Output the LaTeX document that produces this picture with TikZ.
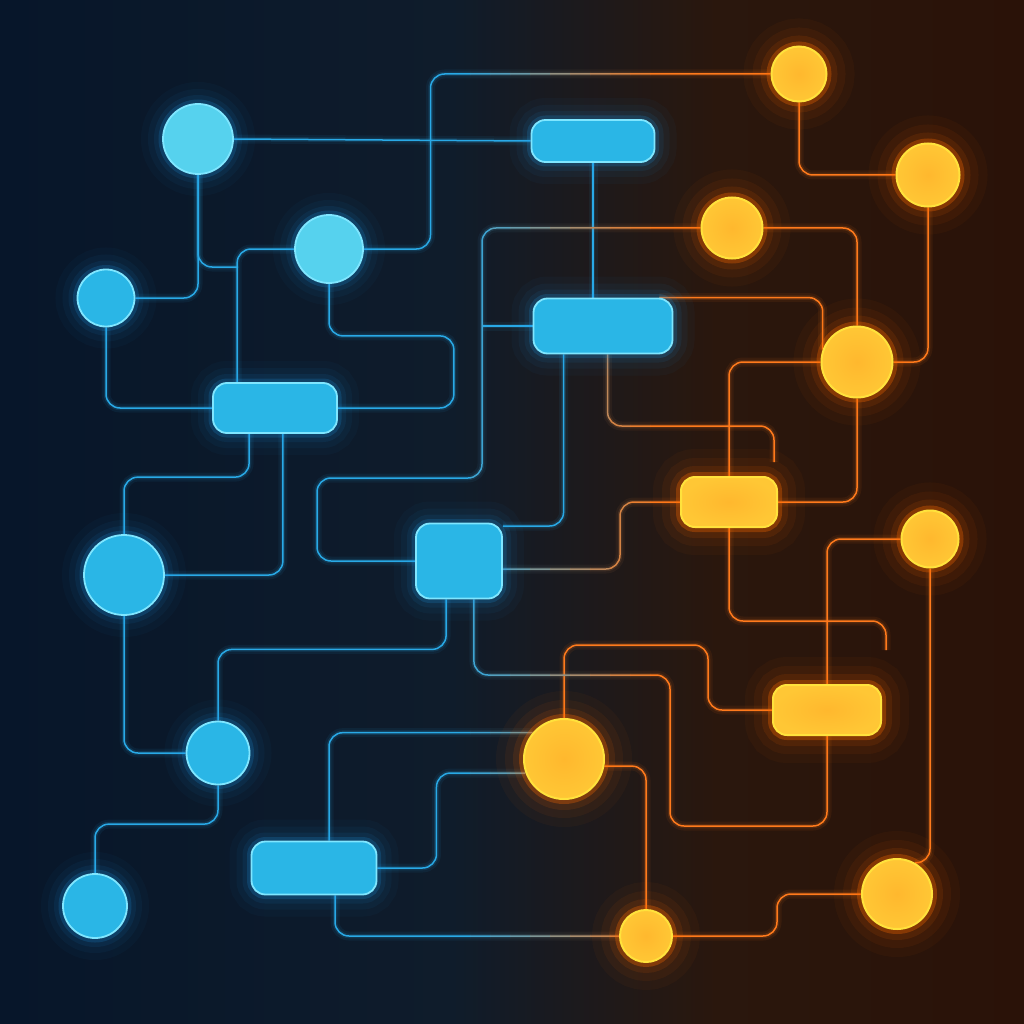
\documentclass[tikz,border=0pt]{standalone}
\usepackage{tikz}
\usepackage{xcolor}
\usetikzlibrary{calc}

\definecolor{bgleft}{HTML}{07162A}
\definecolor{bgmid}{HTML}{0F1C2B}
\definecolor{bgwarm}{HTML}{2A170D}
\definecolor{bgright}{HTML}{2A1208}
\definecolor{bluewire}{HTML}{29A9E6}
\definecolor{warmwire}{HTML}{FF7A1C}
\definecolor{bluefill}{HTML}{2AB6E6}
\definecolor{bluelight}{HTML}{56D2EE}
\definecolor{blueedge}{HTML}{7FE6FF}
\definecolor{blueglow}{HTML}{1E9EF0}
\definecolor{warmfill}{HTML}{FFC735}
\definecolor{warmcore}{HTML}{FFB82E}
\definecolor{warmedge}{HTML}{FFE23C}
\definecolor{warmglow}{HTML}{FF6A00}

\pgfdeclarehorizontalshading{backdrop}{100bp}{color(0bp)=(bgleft); color(25bp)=(bgleft);
  color(47bp)=(bgmid); color(60bp)=(bgwarm); color(75bp)=(bgright); color(100bp)=(bgright)}

\pgfdeclarelayer{back}
\pgfdeclarelayer{wires}
\pgfsetlayers{back,wires,main}

\tikzset{
  wire/.style={draw=#1, line width=1.5pt, rounded corners=14pt,
    preaction={draw=#1, line width=9pt, draw opacity=0.07},
    preaction={draw=#1, line width=4.5pt, draw opacity=0.15}},
  bluedot/.style={circle, inner sep=0pt, fill=bluefill, draw=blueedge, line width=1.8pt,
    preaction={draw=blueglow, line width=44pt, draw opacity=0.035},
    preaction={draw=blueglow, line width=30pt, draw opacity=0.05},
    preaction={draw=blueglow, line width=18pt, draw opacity=0.08},
    preaction={draw=blueglow, line width=9pt, draw opacity=0.18}},
  bluebox/.style={bluedot, rectangle, rounded corners=14pt},
  warmdot/.style={circle, inner sep=0pt, inner color=warmcore, outer color=warmfill,
    draw=warmedge, line width=2pt,
    preaction={draw=warmglow, line width=56pt, draw opacity=0.04},
    preaction={draw=warmglow, line width=38pt, draw opacity=0.06},
    preaction={draw=warmglow, line width=22pt, draw opacity=0.1},
    preaction={draw=warmglow, line width=10pt, draw opacity=0.3}},
  warmbox/.style={warmdot, rectangle, rounded corners=14pt}
}

% wires that run from the cool side to the warm side
\newcommand{\crosswires}[1]{%
  \draw[wire=#1] (b3.east) -| ($(o1.west)+(-340,0)$) -- (o1.west);
  \draw[wire=#1] (o3.west) -| (482,478) -| (317,561) -- (B4.west);
  \draw[wire=#1] ($(B3.south west)+(75,0)$) |- ($(W1.north east)+(-4,-50)$) -- ($(W1.north east)+(-4,-14)$);
  \draw[wire=#1] ($(B3.north east)+(-14,0)$) -| (o4.160);
  \draw[wire=#1] ($(B4.east)+(0,8)$) -| ($(W1.west)+(-60,0)$) -- (W1.west);
  \draw[wire=#1] ($(B4.south east)+(-29,0)$) |- (670,675) |- ($(W2.south)+(0,90)$) -- (W2.south);
  \draw[wire=#1] ($(B5.north)+(15,0)$) |- (o6.140);
  \draw[wire=#1] (B5.east) -| ($(o6.200)+(-89,0)$) -- (o6.200);
  \draw[wire=#1] ($(B5.south)+(21,0)$) |- (o8.west);
}

\begin{document}
\begin{tikzpicture}[x=1pt, y=-1pt]

\useasboundingbox (0,0) rectangle (1024,1024);
\clip (0,0) rectangle (1024,1024); % limit img size

\begin{pgfonlayer}{back}
	\shade[shading=backdrop] (0,0) rectangle (1024,1024);
\end{pgfonlayer}

	% cool nodes
	\node[bluedot, fill=bluelight, minimum size=70pt] (b1) at (198,139) {};
	\node[bluedot, minimum size=57pt] (b2) at (106,298) {};
	\node[bluedot, fill=bluelight, minimum size=68pt] (b3) at (329,249) {};
	\node[bluedot, minimum size=80pt] (b4) at (124,575) {};
	\node[bluedot, minimum size=63pt] (b5) at (218,753) {};
	\node[bluedot, minimum size=64pt] (b6) at (95,906) {};
	\node[bluebox, minimum width=123pt, minimum height=42pt] (B1) at (593,141) {};
	\node[bluebox, minimum width=124pt, minimum height=50pt] (B2) at (275,408) {};
	\node[bluebox, minimum width=139pt, minimum height=55pt] (B3) at (603,326) {};
	\node[bluebox, minimum width=86pt, minimum height=75pt] (B4) at (459,561) {};
	\node[bluebox, minimum width=125pt, minimum height=53pt] (B5) at (314,868) {};

	% warm nodes
	\node[warmdot, minimum size=55pt] (o1) at (799,74) {};
	\node[warmdot, minimum size=63pt] (o2) at (928,175) {};
	\node[warmdot, minimum size=61pt] (o3) at (732,228) {};
	\node[warmdot, minimum size=71pt] (o4) at (857,362) {};
	\node[warmdot, minimum size=57pt] (o5) at (930,539) {};
	\node[warmdot, minimum size=80pt] (o6) at (564,759) {};
	\node[warmdot, minimum size=70pt] (o7) at (897,894) {};
	\node[warmdot, minimum size=52pt] (o8) at (646,936) {};
	\node[warmbox, minimum width=96pt, minimum height=50pt] (W1) at (729,502) {};
	\node[warmbox, minimum width=108pt, minimum height=50pt] (W2) at (827,710) {};

\begin{pgfonlayer}{wires}
	% cool wires
	\draw[wire=bluewire] (b1.east) -- (B1.west);
	\draw[wire=bluewire] (b1.south) |- (b2.east);
	\draw[wire=bluewire] (b1.south) |- (238,267);
	\draw[wire=bluewire] (b3.west) -| ($(B2.north west)+(25,0)$);
	\draw[wire=bluewire] (b2.south) |- (B2.west);
	\draw[wire=bluewire] (b3.south) -- ++(0,52) -| ($(B2.east)+(116,0)$) -- (B2.east);
	\draw[wire=bluewire] (B1.south) -- (B1.south |- B3.north);
	\draw[wire=bluewire] (B3.west) -- ++(-51,0);
	\draw[wire=bluewire] ($(B2.south west)+(37,0)$) |- ($(b4.north)+(0,-57)$) -- (b4.north);
	\draw[wire=bluewire] ($(B2.south east)+(-55,0)$) |- (b4.east);
	\draw[wire=bluewire] (b4.south) |- (b5.west);
	\draw[wire=bluewire] (b5.north) |- ($(B4.south west)+(31,50)$) -- ($(B4.south west)+(31,0)$);
	\draw[wire=bluewire] (b5.south) |- ($(b6.north)+(0,-49)$) -- (b6.north);
	\draw[wire=bluewire] ($(B3.south west)+(31,0)$) |- ($(B4.east)+(0,-35)$);

	% warm wires
	\draw[wire=warmwire] (o1.south) |- (o2.west);
	\draw[wire=warmwire] (o2.south) |- (o4.east);
	\draw[wire=warmwire] (o3.east) -| (o4.north);
	\draw[wire=warmwire] (o4.west) -| (W1.north);
	\draw[wire=warmwire] (o4.south) |- (W1.east);
	\draw[wire=warmwire] (W1.south) |- ($(W2.north east)+(4,-63)$) -- ($(W2.north east)+(4,-34)$);
	\draw[wire=warmwire] (o5.west) -| (W2.north);
	\draw[wire=warmwire] (o5.south) |- (o7.60);
	\draw[wire=warmwire] (o7.west) -| ($(o8.east)+(104,0)$) -- (o8.east);
	\draw[wire=warmwire] (o8.north) |- (o6.-10);
	\draw[wire=warmwire] (o6.north) |- ($(W2.west)+(-64,-65)$) |- (W2.west);

	% mixed wires, blue fading into orange in strips
	\foreach \k in {0,...,10}{
		\pgfmathsetmacro{\stripl}{\k==0 ? 0 : 450+20*\k}
		\pgfmathsetmacro{\stripr}{\k==10 ? 1024 : 470+20*\k}
		\pgfmathtruncatemacro{\mixpct}{100-10*\k}
		\begin{scope}
			\clip (\stripl,0) rectangle (\stripr,1024);
			\crosswires{bluewire!\mixpct!warmwire}
		\end{scope}
	}
\end{pgfonlayer}

\end{tikzpicture}
\end{document}
